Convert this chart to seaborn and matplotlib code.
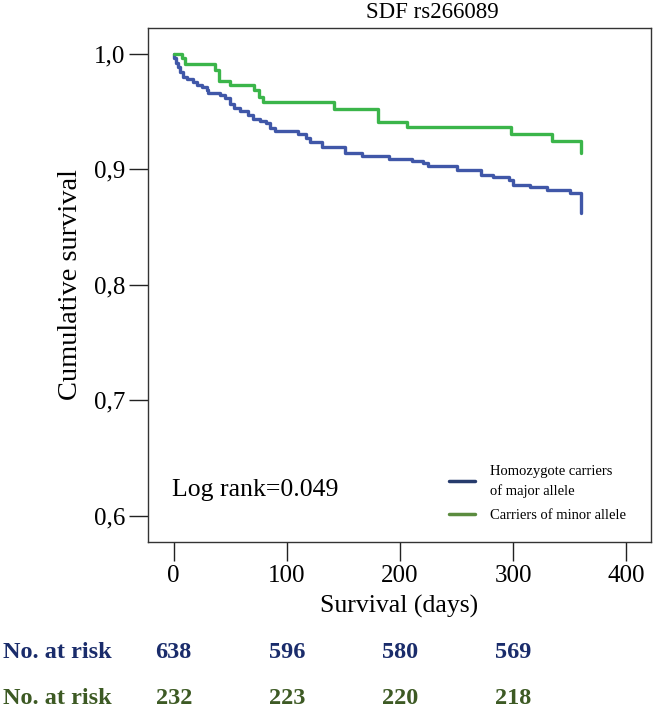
import numpy as np
import pandas as pd
import matplotlib
matplotlib.use("Agg")
import matplotlib.pyplot as plt
import matplotlib.transforms as mtransforms
from matplotlib.lines import Line2D
from matplotlib.ticker import FuncFormatter
import seaborn as sns

# ---- data ----
major_days = [0, 0.3, 2, 4, 6, 8, 11.5, 17.4, 20.3, 24.7, 29.2, 30.6, 41, 45.4, 49.8,
              53.3, 58.6, 66, 70.4, 76.3, 81.6, 85.1, 89.6, 110, 117, 120.5, 130.8,
              151.5, 166, 190, 210.4, 220.7, 225, 250, 272, 282.6, 296, 300, 315, 330,
              350.4, 359.8]
major_surv = [1.0, 0.9963, 0.992, 0.9885, 0.9847, 0.980, 0.978, 0.976, 0.973, 0.9717,
              0.9688, 0.966, 0.9645, 0.9616, 0.957, 0.953, 0.951, 0.947, 0.944, 0.942,
              0.940, 0.9356, 0.9336, 0.931, 0.927, 0.924, 0.919, 0.9145, 0.9113, 0.9094,
              0.9073, 0.9053, 0.903, 0.8995, 0.8951, 0.8937, 0.8908, 0.8865, 0.8845,
              0.882, 0.8798, 0.862]
minor_days = [0, 7, 10, 36.5, 40, 50, 71, 75, 78.7, 141.5, 180.5, 206, 298, 334.5, 360]
minor_surv = [1.0, 0.9963, 0.9913, 0.986, 0.977, 0.973, 0.969, 0.963, 0.958, 0.9526,
              0.941, 0.9365, 0.9307, 0.9246, 0.914]

group_labels = ["Homozygote carriers\nof major allele", "Carriers of minor allele"]
risk_days = [0, 100, 200, 300]
risk_major = [638, 596, 580, 569]
risk_minor = [232, 223, 220, 218]
x_ticks = [0, 100, 200, 300, 400]
y_ticks = [0.6, 0.7, 0.8, 0.9, 1.0]
title = "SDF rs266089"
log_rank_text = "Log rank=0.049"

# ---- style ----
sns.set_theme(style="white")
plt.rcParams["font.family"] = ["Liberation Serif", "DejaVu Serif"]
plt.rcParams["text.color"] = "black"
plt.rcParams["axes.labelcolor"] = "black"
plt.rcParams["xtick.color"] = "black"
plt.rcParams["ytick.color"] = "black"

curve_major = "#4057a8"
curve_minor = "#3bb54a"
leg_major = "#263b6c"
leg_minor = "#5b8c3f"
txt_major = "#1a2c6b"
txt_minor = "#3d5a24"

fig = plt.figure(figsize=(6.54, 7.09), dpi=100)
ax = fig.add_axes([148/654, 1-542/709, (651-148)/654, (542-28)/709])

df = pd.concat([
    pd.DataFrame({"day": major_days, "surv": major_surv, "group": group_labels[0]}),
    pd.DataFrame({"day": minor_days, "surv": minor_surv, "group": group_labels[1]}),
])
sns.lineplot(data=df, x="day", y="surv", hue="group",
             palette={group_labels[0]: curve_major, group_labels[1]: curve_minor},
             estimator=None, sort=False, drawstyle="steps-post", linewidth=2.4,
             legend=False, ax=ax)

ax.set_xlim(-22.7, 421.8)
ax.set_ylim(0.5772, 1.0225)
ax.set_xticks(x_ticks)
ax.set_yticks(y_ticks)
ax.yaxis.set_major_formatter(FuncFormatter(lambda v, p: f"{v:.1f}".replace(".", ",")))
ax.tick_params(axis="both", which="major", direction="out", length=13.5, width=1.0,
               color="#222222", labelsize=18, pad=3, bottom=True, left=True)
for s in ax.spines.values():
    s.set_visible(True)
    s.set_color("#333333")
    s.set_linewidth(1.0)

ax.set_xlabel("Survival (days)", fontsize=18.5, labelpad=6)
ax.set_ylabel("Cumulative survival", fontsize=20.5, labelpad=8)

fig.text(432/654, 1-13/709, title, ha="center", va="center", fontsize=16.5)
ax.text((172-148)/503, (542-490)/514, log_rank_text, transform=ax.transAxes,
        ha="left", va="center", fontsize=18.5)

handles = [Line2D([0], [0], color=leg_major, lw=2.5),
           Line2D([0], [0], color=leg_minor, lw=2.5)]
leg = ax.legend(handles, group_labels, loc="upper left", frameon=False,
                bbox_to_anchor=((436-148)/503, (542-452)/514), fontsize=10.5,
                handlelength=1.8, handletextpad=1.0, labelspacing=0.75)
for t in leg.get_texts():
    t.set_linespacing(1.55)

blend = mtransforms.blended_transform_factory(ax.transData, fig.transFigure)
for yy, vals, col in [(1-653/709, risk_major, txt_major), (1-698/709, risk_minor, txt_minor)]:
    fig.text(3/654, yy, "No. at risk", ha="left", va="center", fontsize=17.5,
             fontweight="bold", color=col)
    for d, v in zip(risk_days, vals):
        ax.text(d, yy, str(v), transform=blend, ha="center", va="center",
                fontsize=17.5, fontweight="bold", color=col)

fig.savefig("out.png", dpi=100)
